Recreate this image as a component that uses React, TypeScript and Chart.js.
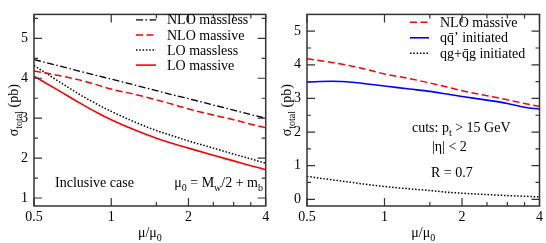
import React, { useEffect, useRef } from 'react';
import { Chart, registerables } from 'chart.js';

Chart.register(...registerables);

// ---------- data ----------
const MU = [0.5, 0.625, 0.75, 0.875, 1, 1.25, 1.5, 1.75, 2, 2.5, 3, 3.5, 4];
const NLO_MASSLESS = [4.47, 4.31, 4.18, 4.07, 3.98, 3.82, 3.69, 3.58, 3.49, 3.33, 3.2, 3.09, 3.0];
const NLO_MASSIVE = [4.18, 4.07, 3.96, 3.84, 3.73, 3.59, 3.46, 3.34, 3.23, 3.08, 2.96, 2.85, 2.76];
const LO_MASSLESS = [4.32, 3.92, 3.6, 3.36, 3.17, 2.89, 2.69, 2.55, 2.43, 2.25, 2.1, 1.98, 1.87];
const LO_MASSIVE = [4.05, 3.69, 3.39, 3.15, 2.96, 2.69, 2.5, 2.36, 2.25, 2.07, 1.93, 1.81, 1.71];
const QQBAR = [3.49, 3.51, 3.48, 3.42, 3.37, 3.28, 3.21, 3.13, 3.06, 2.95, 2.85, 2.74, 2.68];
const QG = [0.68, 0.58, 0.5, 0.43, 0.38, 0.31, 0.26, 0.21, 0.18, 0.14, 0.11, 0.09, 0.07];

const X_TICKS = [0.5, 1, 2, 4];
const X_MINOR = [1.5, 2.5, 3, 3.5];
const Y_TICKS_LEFT = [1, 2, 3, 4, 5];
const Y_TICKS_RIGHT = [0, 1, 2, 3, 4, 5];

const FONT = "'Liberation Serif', 'DejaVu Serif', serif";

type Part = { t: string; sub?: boolean };
type Style = { color: string; dash: number[]; width: number };

const S_NLO_MASSLESS: Style = { color: '#000000', dash: [7, 2.5, 1.5, 2.5], width: 1.3 };
const S_NLO_MASSIVE: Style = { color: '#ff0000', dash: [7, 3.5], width: 1.5 };
const S_LO_MASSLESS: Style = { color: '#000000', dash: [1.5, 1.8], width: 1.5 };
const S_LO_MASSIVE: Style = { color: '#ff0000', dash: [], width: 1.6 };
const S_QQ: Style = { color: '#0000ff', dash: [], width: 1.6 };
const S_QG: Style = { color: '#000000', dash: [1.5, 1.8], width: 1.5 };

function pts(ys: number[]) {
  return MU.map((x, i) => ({ x, y: ys[i] }));
}

function ds(label: string, ys: number[], s: Style) {
  return {
    label,
    data: pts(ys),
    borderColor: s.color,
    borderDash: s.dash,
    borderWidth: s.width,
    pointRadius: 0,
    fill: false,
    cubicInterpolationMode: 'monotone',
  };
}

function drawRich(ctx: CanvasRenderingContext2D, parts: Part[], x: number, y: number, align: string, size = 14) {
  const subSize = Math.round(size * 0.72);
  let w = 0;
  for (const p of parts) {
    ctx.font = `${p.sub ? subSize : size}px ${FONT}`;
    w += ctx.measureText(p.t).width;
  }
  let cx = align === 'left' ? x : align === 'right' ? x - w : x - w / 2;
  const base = y + size * 0.33;
  ctx.textAlign = 'left';
  ctx.textBaseline = 'alphabetic';
  for (const p of parts) {
    ctx.font = `${p.sub ? subSize : size}px ${FONT}`;
    ctx.fillText(p.t, cx, p.sub ? base + size * 0.3 : base);
    cx += ctx.measureText(p.t).width;
  }
}

type Deco = {
  yMinor: number[];
  legend: { label: Part[]; style: Style; y: number }[];
  legendX1: number;
  legendX2: number;
  legendTX: number;
  texts: { parts: Part[]; x: number; y: number; align: string }[];
};

function makeDeco(d: Deco) {
  return {
    id: 'deco',
    afterDatasetsDraw(chart: any) {
      const { ctx, chartArea: a, scales } = chart;
      const xs = scales.x;
      const ys = scales.y;
      ctx.save();
      ctx.setLineDash([]);
      ctx.strokeStyle = '#333';
      ctx.lineWidth = 1.5;
      ctx.strokeRect(a.left, a.top, a.right - a.left, a.bottom - a.top);
      ctx.lineWidth = 1.2;
      const tickX = (v: number, len: number) => {
        const px = xs.getPixelForValue(v);
        ctx.beginPath();
        ctx.moveTo(px, a.bottom);
        ctx.lineTo(px, a.bottom - len);
        ctx.moveTo(px, a.top);
        ctx.lineTo(px, a.top + len);
        ctx.stroke();
      };
      const tickY = (v: number, len: number) => {
        const py = ys.getPixelForValue(v);
        ctx.beginPath();
        ctx.moveTo(a.left, py);
        ctx.lineTo(a.left + len, py);
        ctx.moveTo(a.right, py);
        ctx.lineTo(a.right - len, py);
        ctx.stroke();
      };
      X_TICKS.forEach((v) => tickX(v, 8));
      X_MINOR.forEach((v) => tickX(v, 4));
      ys.ticks.forEach((t: any) => tickY(t.value, 8));
      d.yMinor.forEach((v) => tickY(v, 4));

      // legend
      for (const e of d.legend) {
        ctx.strokeStyle = e.style.color;
        ctx.lineWidth = e.style.width;
        ctx.setLineDash(e.style.dash);
        ctx.beginPath();
        ctx.moveTo(d.legendX1, e.y);
        ctx.lineTo(d.legendX2, e.y);
        ctx.stroke();
        ctx.setLineDash([]);
        ctx.fillStyle = '#000';
        drawRich(ctx, e.label, d.legendTX, e.y, 'left');
      }
      ctx.fillStyle = '#000';
      for (const t of d.texts) drawRich(ctx, t.parts, t.x, t.y, t.align);

      // axis titles
      const cy = (a.top + a.bottom) / 2;
      ctx.save();
      ctx.translate(13, cy);
      ctx.rotate(-Math.PI / 2);
      drawRich(ctx, [{ t: 'σ' }, { t: 'total', sub: true }, { t: ' (pb)' }], 0, 0, 'center', 14);
      ctx.restore();
      drawRich(ctx, [{ t: 'μ/μ' }, { t: '0', sub: true }], (a.left + a.right) / 2, 232, 'center', 14);
      ctx.restore();
    },
  };
}

function makeConfig(datasets: any[], yMin: number, yMax: number, yTicks: number[], padRight: number, deco: any) {
  return {
    type: 'line' as const,
    data: { datasets },
    plugins: [deco],
    options: {
      animation: false,
      responsive: false,
      devicePixelRatio: 1,
      layout: { padding: { left: 0, right: padRight, top: 1.5, bottom: 0 } },
      plugins: { legend: { display: false }, tooltip: { enabled: false } },
      scales: {
        x: {
          type: 'logarithmic',
          min: 0.5,
          max: 4,
          grid: { display: false, drawTicks: false, tickLength: 0 },
          border: { display: false },
          afterBuildTicks: (s: any) => {
            s.ticks = X_TICKS.map((v) => ({ value: v }));
          },
          afterFit: (s: any) => {
            s.height = 37;
          },
          ticks: {
            autoSkip: false,
            maxRotation: 0,
            padding: 3,
            color: '#000',
            font: { family: FONT, size: 14 },
            callback: (v: any) => String(v),
          },
        },
        y: {
          type: 'linear',
          min: yMin,
          max: yMax,
          grid: { display: false, drawTicks: false, tickLength: 0 },
          border: { display: false },
          afterBuildTicks: (s: any) => {
            s.ticks = yTicks.map((v) => ({ value: v }));
          },
          afterFit: (s: any) => {
            s.width = 34;
          },
          ticks: {
            padding: 6,
            color: '#000',
            font: { family: FONT, size: 14 },
            callback: (v: any) => String(v),
          },
        },
      },
    },
  };
}

function LeftChart() {
  const ref = useRef<HTMLCanvasElement>(null);
  useEffect(() => {
    const deco = makeDeco({
      yMinor: [1.5, 2.5, 3.5, 4.5, 5.5],
      legendX1: 136,
      legendX2: 156,
      legendTX: 167,
      legend: [
        { label: [{ t: 'NLO massless' }], style: S_NLO_MASSLESS, y: 19.8 },
        { label: [{ t: 'NLO massive' }], style: S_NLO_MASSIVE, y: 34.9 },
        { label: [{ t: 'LO massless' }], style: S_LO_MASSLESS, y: 50 },
        { label: [{ t: 'LO massive' }], style: S_LO_MASSIVE, y: 65.1 },
      ],
      texts: [
        { parts: [{ t: 'Inclusive case' }], x: 55, y: 182, align: 'left' },
        {
          parts: [{ t: 'μ' }, { t: '0', sub: true }, { t: ' = M' }, { t: 'w', sub: true }, { t: '/2 + m' }, { t: 'b', sub: true }],
          x: 263,
          y: 182,
          align: 'right',
        },
      ],
    });
    const chart = new Chart(
      ref.current as HTMLCanvasElement,
      makeConfig(
        [
          ds('NLO massless', NLO_MASSLESS, S_NLO_MASSLESS),
          ds('NLO massive', NLO_MASSIVE, S_NLO_MASSIVE),
          ds('LO massless', LO_MASSLESS, S_LO_MASSLESS),
          ds('LO massive', LO_MASSIVE, S_LO_MASSIVE),
        ],
        0.8,
        5.6,
        Y_TICKS_LEFT,
        7.3,
        deco
      ) as any
    );
    return () => chart.destroy();
  }, []);
  return <canvas ref={ref} width={273} height={243} style={{ position: 'absolute', left: 0, top: 0, width: 273, height: 243 }} />;
}

function RightChart() {
  const ref = useRef<HTMLCanvasElement>(null);
  useEffect(() => {
    const deco = makeDeco({
      yMinor: [0.5, 1.5, 2.5, 3.5, 4.5],
      legendX1: 137,
      legendX2: 156,
      legendTX: 167,
      legend: [
        { label: [{ t: 'NLO massive' }], style: S_NLO_MASSIVE, y: 22.3 },
        { label: [{ t: 'q\u0071\u0304\u2019 initiated' }], style: S_QQ, y: 37.8 },
        { label: [{ t: 'qg+q\u0304g initiated' }], style: S_QG, y: 53.3 },
      ],
      texts: [
        { parts: [{ t: 'cuts: p' }, { t: 't', sub: true }, { t: ' > 15 GeV' }], x: 139, y: 127, align: 'left' },
        { parts: [{ t: '|η| < 2' }], x: 159, y: 146, align: 'left' },
        { parts: [{ t: 'R = 0.7' }], x: 158, y: 172.5, align: 'left' },
      ],
    });
    const chart = new Chart(
      ref.current as HTMLCanvasElement,
      makeConfig(
        [
          ds('NLO massive', NLO_MASSIVE, S_NLO_MASSIVE),
          ds("qq'", QQBAR, S_QQ),
          ds('qg', QG, S_QG),
        ],
        -0.2,
        5.5,
        Y_TICKS_RIGHT,
        4.7,
        deco
      ) as any
    );
    return () => chart.destroy();
  }, []);
  return <canvas ref={ref} width={273} height={243} style={{ position: 'absolute', left: 273, top: 0, width: 273, height: 243 }} />;
}

export default function App() {
  return (
    <div style={{ position: 'absolute', left: 0, top: 0, width: 546, height: 243, background: '#fff' }}>
      <LeftChart />
      <RightChart />
    </div>
  );
}
